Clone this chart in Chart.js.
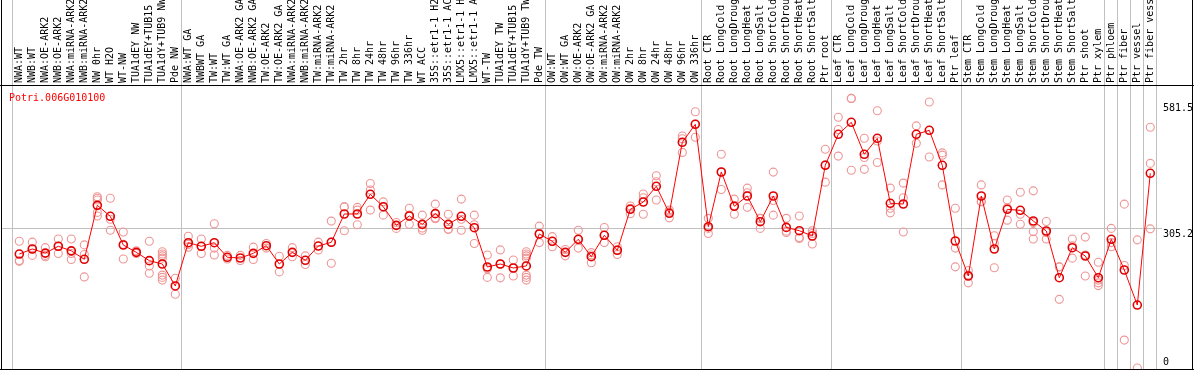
<!DOCTYPE html>
<html><head><meta charset="utf-8">
<script src="https://cdn.jsdelivr.net/npm/chart.js@4/dist/chart.umd.min.js"></script>
<style>html,body{margin:0;padding:0;background:#fff;overflow:hidden}</style>
</head><body>
<canvas id="c" width="1194" height="370"></canvas>
<script>
const geneId = 'Potri.006G010100';

const categories = [
 'NWA:WT','NWB:WT','NWA:OE-ARK2','NWB:OE-ARK2','NWA:miRNA-ARK2','NWB:miRNA-ARK2','NW 0hr','WT H2O','WT-NW','TUA1dEY NW','TUA1dEY+TUB15 NW','TUA1dY+TUB9 NW','Pde NW',
 'NWA:WT GA','NWBWT GA','TW:WT','TW:WT GA','NWA:OE-ARK2 GA','NWB:OE-ARK2 GA','TW:OE-ARK2','TW:OE-ARK2 GA','NWA:miRNA-ARK2 GA','NWB:miRNA-ARK2 GA','TW:miRNA-ARK2','TW:miRNA-ARK2 GA',
 'TW 2hr','TW 8hr','TW 24hr','TW 48hr','TW 96hr','TW 336hr','WT ACC','35S::etr1-1 H2O','35S::etr1-1 ACC','LMX5::etr1-1 H2O','LMX5::etr1-1 ACC','WT-TW','TUA1dEY TW','TUA1dEY+TUB15 TW','TUA1dY+TUB9 TW','Pde TW',
 'OW:WT','OW:WT GA','OW:OE-ARK2','OW:OE-ARK2 GA','OW:miRNA-ARK2','OW:miRNA-ARK2 GA','OW 2hr','OW 8hr','OW 24hr','OW 48hr','OW 96hr','OW 336hr',
 'Root CTR','Root LongCold','Root LongDrought','Root LongHeat','Root LongSalt','Root ShortCold','Root ShortDrought','Root ShortHeat','Root ShortSalt','Ptr root',
 'Leaf CTR','Leaf LongCold','Leaf LongDrought','Leaf LongHeat','Leaf LongSalt','Leaf ShortCold','Leaf ShortDrought','Leaf ShortHeat','Leaf ShortSalt','Ptr leaf',
 'Stem CTR','Stem LongCold','Stem LongDrought','Stem LongHeat','Stem LongSalt','Stem ShortCold','Stem ShortDrought','Stem ShortHeat','Stem ShortSalt','Ptr shoot','Ptr xylem',
 'Ptr phloem','Ptr fiber','Ptr vessel','Ptr fiber vessel'
];

const means = [
 249,260,251,266,256,237.5,355.4,331.4,268.7,252.7,234.5,227.2,179.2,
 273.8,265.9,273.8,241.9,240.3,250.5,267.2,227.2,252.7,235.3,266.5,274.6,
 336.5,336.5,379.5,352.4,311.7,332.1,313.9,337.2,313.9,331.4,306.5,220.7,227.2,218.5,222.9,292.8,
 276.8,252.7,281.2,243.2,289.9,257.1,346.7,362.7,397,338,493.1,532.4,
 308.7,428.2,353.3,375.8,319.6,375.8,307.2,300,288.4,442.9,
 510.6,536.8,466.9,501.8,359.8,358.3,510.6,519.3,442.9,277.5,
 201,375.8,260,346.7,344.5,321.2,299.3,197.3,262.8,244.7,197.3,
 281.2,214.1,137.6,425.4
];

const replicates = [
 [277,235,233],[275,260,246],[263,246,243],[282,266,250],[282,250,237],[269,248,199],
 [374,371,367,340,332],[371,325,301],[297,270,238],[256,250],[277,223,207],
 [254,249,245,240,203,198,192],[196,161],
 [288,264,270],[282,266,250],[315,262,247],[246,238],[246,235],[264,237],[272,262],[244,210],
 [263,243],[245,226],[275,258],[321,275,229],
 [352,352,300],[351,345,313],[403,389,345],[363,352,334],[318,305],[349,334,314],[334,306,301],
 [358,328,326],[336,303,303],[369,325,301],[334,313,272],[247,217,198],[258,227,197],[236,218,201],
 [254,249,245,240,203,198,192],[310,293,274],
 [287,277,265],[259,245],[301,281,262],[252,247,230],[307,290,274],[265,258,248],
 [354,349,337],[380,372,336],[420,407,367],[345,341,328],[507,501,471],[560,533,504],
 [327,305,294],[467,428,390],[369,355,336],[393,383,351],[327,327,305],[428,366,334],
 [327,299,296],[332,285,283],[300,294,271],[478,444,406],
 [548,521,463],[589,589,432],[502,460,434],[562,496,449],[393,349,339],[404,372,297],
 [529,491],[581,461],[470,465,400],[349,262,221],
 [213,203,186],[400,363,364],[289,272,219],[367,350,323],[384,336,314],[387,318,298,282],
 [320,296,282],[221,221,150],[282,267,240],[286,247,201],[231,192,186,180],
 [305,274,265],[358,224,61],[280,0],[526,447,304]
];

const yTickValues = [0, 305.2, 581.5];
const yTickLabels = ['0', '305.2', '581.5'];
const groupEnds = [-1, 12, 40, 52, 62, 72, 83, 84, 85, 86, 87];

const FONT = '10px "DejaVu Sans Mono", "Liberation Mono", monospace';

const decor = {
  id: 'decor',
  beforeDatasetsDraw(chart) {
    const {ctx, chartArea: ca, scales: {x, y}} = chart;
    ctx.save();
    ctx.fillStyle = '#c0c0c0';
    const gy = Math.round(y.getPixelForValue(yTickValues[1]));
    ctx.fillRect(ca.left, gy, ca.right - ca.left, 1);
    groupEnds.forEach(g => {
      const gx = Math.round(x.getPixelForValue(g + 0.4));
      ctx.fillRect(gx, 0, 1, ca.bottom);
    });
    ctx.restore();
  },
  afterDraw(chart) {
    const {ctx, chartArea: ca, scales: {x, y}} = chart;
    const W = chart.width, H = chart.height;
    ctx.save();
    ctx.fillStyle = '#000';
    ctx.fillRect(1, 0, 1, H);
    ctx.fillRect(W - 2, 0, 1, H);
    ctx.fillRect(0, ca.top, W, 1);
    ctx.fillRect(0, ca.bottom, W, 1);
    ctx.font = FONT;
    ctx.fillStyle = '#000';
    ctx.textAlign = 'left';
    ctx.textBaseline = 'alphabetic';
    categories.forEach((lab, i) => {
      const px = x.getPixelForValue(i);
      ctx.save();
      ctx.translate(Math.round(px) + 3, ca.top - 2);
      ctx.rotate(-Math.PI / 2);
      ctx.fillText(lab, 0, 0);
      ctx.restore();
    });
    yTickValues.forEach((v, i) => {
      const py = Math.min(y.getPixelForValue(v) + 9, ca.bottom - 4);
      ctx.fillText(yTickLabels[i], ca.right + 1, Math.round(py));
    });
    ctx.fillStyle = '#ff0000';
    ctx.fillText(geneId, 9, ca.top + 16);
    ctx.restore();
  }
};

const repPoints = [];
replicates.forEach((arr, i) => arr.forEach(v => repPoints.push({x: i, y: v})));
const meanPoints = means.map((v, i) => ({x: i, y: v}));

new Chart(document.getElementById('c'), {
  type: 'scatter',
  data: {
    datasets: [
      {
        label: 'mean',
        data: meanPoints,
        showLine: true,
        borderColor: '#ff0000',
        borderWidth: 1,
        pointRadius: 4,
        pointBorderWidth: 1.6,
        pointBorderColor: '#e00000',
        pointBackgroundColor: 'rgba(0,0,0,0)',
        order: 0
      },
      {
        label: 'replicates',
        data: repPoints,
        showLine: false,
        pointRadius: 4,
        pointBorderWidth: 1.1,
        pointBorderColor: 'rgb(238,150,150)',
        pointBackgroundColor: 'rgba(0,0,0,0)',
        clip: 0,
        order: 1
      }
    ]
  },
  options: {
    responsive: false,
    animation: false,
    devicePixelRatio: 1,
    layout: {autoPadding: false, padding: {left: 1, right: 32, top: 85, bottom: 1}},
    plugins: {legend: {display: false}, tooltip: {enabled: false}, title: {display: false}},
    scales: {
      x: {type: 'linear', min: -1.408, max: 87.9, display: false},
      y: {type: 'linear', min: -2.18, max: 618.3, display: false}
    }
  },
  plugins: [decor]
});
</script>
</body></html>
